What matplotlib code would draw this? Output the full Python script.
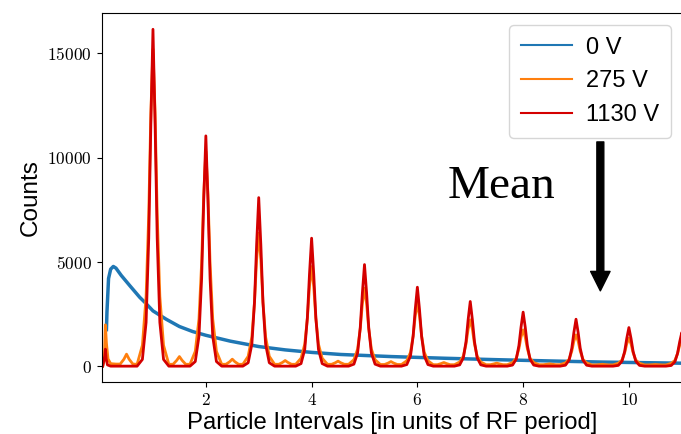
import matplotlib
matplotlib.use('Agg')
import matplotlib.pyplot as plt
import numpy as np

plt.rcParams['mathtext.fontset'] = 'cm'
plt.rcParams['font.family'] = ['Liberation Sans', 'DejaVu Sans']

# 0 V: broad decaying distribution
blue_x = [0.12, 0.13, 0.16, 0.2, 0.25, 0.3, 0.4, 0.565, 0.75, 0.85, 1.0, 1.25, 1.5,
          1.75, 2.0, 2.46, 3.0, 3.5, 4.0, 4.55, 5.5, 6.5, 7.5, 8.5, 9.5, 10.5, 11.05]
blue_y = [1750, 2600, 4200, 4650, 4780, 4700, 4350, 3850, 3300, 3050, 2650, 2250, 1900,
          1660, 1480, 1200, 940, 780, 660, 560, 460, 380, 310, 250, 195, 160, 140]

# bunched signals: peaks at integer RF periods
peak_centers = [1, 2, 3, 4, 5, 6, 7, 8, 9, 10, 11]
peak_dx = [-0.3, -0.2, -0.13, -0.08, -0.04, 0, 0.04, 0.08, 0.13, 0.2, 0.3]

red_peaks = [
    [0, 323, 2100, 6137, 11628, 16150, 11628, 6137, 2100, 323, 0],
    [0, 221, 1435, 4195, 7949, 11040, 7949, 4195, 1435, 221, 0],
    [0, 162, 1050, 3070, 5818, 8080, 5818, 3070, 1050, 162, 0],
    [0, 123, 798, 2331, 4417, 6135, 4417, 2331, 798, 123, 0],
    [0, 97, 633, 1851, 3506, 4870, 3506, 1851, 633, 97, 0],
    [0, 76, 492, 1438, 2725, 3785, 2725, 1438, 492, 76, 0],
    [0, 62, 403, 1178, 2232, 3100, 2232, 1178, 403, 62, 0],
    [0, 52, 337, 984, 1865, 2590, 1865, 984, 337, 52, 0],
    [0, 45, 293, 855, 1620, 2250, 1620, 855, 293, 45, 0],
    [0, 37, 241, 703, 1332, 1850, 1332, 703, 241, 37, 0],
    [0, 32, 209, 612, 1159, 1610, 1159, 612, 209, 32, 0],
]
red_start_x = [0.05, 0.09, 0.1, 0.115, 0.14, 0.2]
red_start_y = [0, 500, 815, 350, 60, 0]

orange_peaks = [
    [90, 1000, 3344, 7296, 12160, 15200, 12160, 7296, 3344, 1000, 90],
    [90, 710, 2266, 4944, 8240, 10300, 8240, 4944, 2266, 710, 90],
    [90, 470, 1403, 3060, 5100, 6375, 5100, 3060, 1403, 470, 90],
    [90, 380, 1051, 2292, 3820, 4775, 3820, 2292, 1051, 380, 90],
    [90, 310, 823, 1795, 2992, 3740, 2992, 1795, 823, 310, 80],
    [80, 260, 664, 1450, 2416, 3020, 2416, 1450, 664, 260, 70],
    [70, 200, 488, 1066, 1776, 2220, 1776, 1066, 488, 200, 70],
    [70, 175, 383, 835, 1392, 1740, 1392, 835, 383, 175, 70],
    [70, 160, 330, 720, 1200, 1500, 1200, 720, 330, 160, 60],
    [60, 140, 295, 643, 1072, 1340, 1072, 643, 295, 140, 60],
    [60, 135, 275, 600, 1000, 1250, 1000, 600, 275, 135, 60],
]
bump_centers = [0.5, 1.5, 2.5, 3.5, 4.5, 5.5, 6.5, 7.5, 8.5, 9.5, 10.5]
bump_dx = [-0.12, -0.05, 0, 0.05, 0.12]
orange_bumps = [
    [100, 330, 575, 330, 100],
    [90, 280, 460, 280, 90],
    [90, 210, 335, 210, 90],
    [90, 180, 270, 180, 90],
    [90, 165, 240, 165, 90],
    [80, 150, 220, 150, 80],
    [70, 125, 175, 125, 70],
    [70, 110, 145, 110, 70],
    [70, 90, 110, 90, 70],
    [60, 75, 90, 75, 60],
    [60, 70, 80, 70, 60],
]
orange_start_x = [0.05, 0.08, 0.1, 0.12, 0.15, 0.2, 0.3]
orange_start_y = [0, 300, 1980, 1100, 350, 120, 100]

labels = ['0 V', '275 V', '1130 V']
colors = ['#1f77b4', '#ff7f0e', '#d40000']

x_ticks = [2, 4, 6, 8, 10]
y_ticks = [0, 5000, 10000, 15000]


def build_curve(start_x, start_y, groups):
    xs = list(start_x)
    ys = list(start_y)
    for centers, dx, rows in groups:
        for c, row in zip(centers, rows):
            xs.extend(c + np.asarray(dx))
            ys.extend(row)
    order = np.argsort(xs, kind='stable')
    return np.asarray(xs)[order], np.asarray(ys)[order]


orange_x, orange_y = build_curve(orange_start_x, orange_start_y,
                                 [(peak_centers, peak_dx, orange_peaks),
                                  (bump_centers, bump_dx, orange_bumps)])
red_x, red_y = build_curve(red_start_x, red_start_y,
                           [(peak_centers, peak_dx, red_peaks)])

fig = plt.figure(figsize=(6.81, 4.34), dpi=100)
ax = fig.add_axes([0.1493, 0.1198, 0.853, 0.8502])

ax.plot(blue_x, blue_y, color=colors[0], lw=2.5, label=labels[0])
ax.plot(orange_x, orange_y, color=colors[1], lw=2, label=labels[1])
ax.plot(red_x, red_y, color=colors[2], lw=2, label=labels[2])

ax.set_xlim(0.03, 11.015)
ax.set_ylim(-760, 16930)
ax.set_xticks(x_ticks, [f'${t}$' for t in x_ticks])
ax.set_yticks(y_ticks, [f'${t}$' for t in y_ticks])
ax.tick_params(labelsize=12.5)

ax.set_xlabel('Particle Intervals [in units of RF period]', fontsize=17.2, labelpad=3.2)
ax.set_ylabel('Counts', fontsize=17.5)

leg = ax.legend(loc='upper right', fontsize=17, handlelength=2.16,
                handletextpad=0.6, borderpad=0.5)
for line in leg.get_lines():
    line.set_linewidth(1.5)

ax.text(6.57, 8070, 'Mean', fontsize=34, family='Liberation Serif',
        ha='left', va='baseline')
ax.annotate('', xy=(9.46, 3610), xytext=(9.46, 10750),
            arrowprops=dict(facecolor='black', edgecolor='black',
                            width=5, headwidth=14, headlength=14))

fig.savefig('out.png', dpi=100)
